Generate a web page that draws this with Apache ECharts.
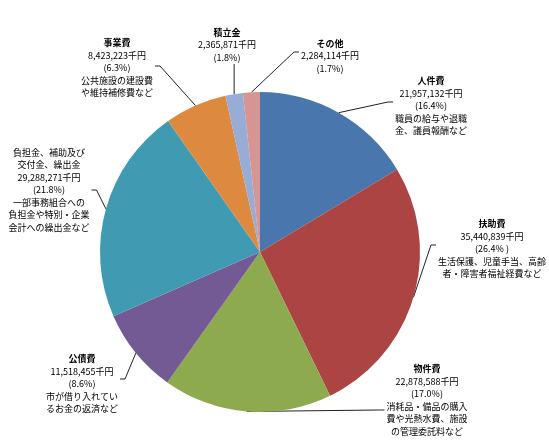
<!DOCTYPE html>
<html>
<head>
<meta charset="utf-8">
<script src="https://cdn.jsdelivr.net/npm/echarts@6/dist/echarts.min.js"></script>
</head>
<body style="margin:0;background:#fff">
<div id="chart" style="width:549px;height:448px;"></div>
<script>
// 歳出の内訳 (千円)
var names = ['人件費', '扶助費', '物件費', '公債費', '負担金、補助及び\n交付金、繰出金', '事業費', '積立金', 'その他'];
var values = [21957132, 35440839, 22878588, 11518455, 29288271, 8423223, 2365871, 2284114];
var pcts = ['16.4%', '26.4% ', '17.0%', '8.6%', '21.8%', '6.3%', '1.8%', '1.7%'];
var notes = [
    ['職員の給与や退職', '金、議員報酬など'],
    ['生活保護、児童手当、高齢', '者・障害者福祉経費など'],
    ['消耗品・備品の購入', '費や光熱水費、施設', 'の管理委託料など'],
    ['市が借り入れてい', 'るお金の返済など'],
    ['一部事務組合への', '負担金や特別・企業', '会計への繰出金など'],
    ['公共施設の建設費', 'や維持補修費など'],
    [],
    []
];
var colors = ['#4976ac', '#ab4442', '#8eaa4f', '#735a94', '#409bb2', '#dd8940', '#98add6', '#d69493'];

// label centre x, y, side the leader line meets, y shift of the line end
var labelPos = [
    [431, 106, 'left', -4],
    [492, 249, 'left', -4],
    [427, 400, 'left', 10],
    [82, 384, 'right', -5],
    [49, 190, 'right', 0],
    [117, 68, 'right', -2],
    [227, 45, 'bottom', 0],
    [330, 56, 'left', -4]
];

var chart = echarts.init(document.getElementById('chart'));

var data = [];
for (var i = 0; i < names.length; i++) {
    data.push({ name: names[i], value: values[i], itemStyle: { color: colors[i] } });
}

function fmt(v) {
    return String(v).replace(/\B(?=(\d{3})+(?!\d))/g, ',');
}

var option = {
    animation: false,
    series: [{
        type: 'pie',
        center: [260, 252],
        radius: 160,
        startAngle: 90,
        clockwise: true,
        avoidLabelOverlap: false,
        minShowLabelAngle: 0,
        itemStyle: { borderWidth: 0 },
        data: data,
        label: {
            show: true,
            position: 'outside',
            overflow: 'none',
            formatter: function (p) {
                var i = p.dataIndex;
                var parts = p.name.split('\n');
                // long two-line names are set in the normal weight
                var st = parts.length > 1 ? 't' : 'b';
                var lines = parts.map(function (s) { return '{' + st + '|' + s + '}'; });
                lines.push('{t|' + fmt(p.value) + '千円}');
                lines.push('{t|(' + pcts[i] + ')}');
                notes[i].forEach(function (s) { lines.push('{t|' + s + '}'); });
                return lines.join('\n');
            },
            rich: {
                b: { fontSize: 9, lineHeight: 12.5, fontWeight: 'bold', color: '#000', fontFamily: 'Noto Sans CJK JP' },
                t: { fontSize: 9, lineHeight: 12.5, color: '#000', fontFamily: 'Noto Sans CJK JP' }
            }
        },
        labelLine: {
            show: true,
            length: 10,
            length2: 5,
            lineStyle: { color: '#222', width: 1 }
        },
        labelLayout: function (params) {
            var pos = labelPos[params.dataIndex];
            var w = params.labelRect.width, h = params.labelRect.height;
            var x = pos[0], y = pos[1];
            var start = params.labelLinePoints[0];
            var end, mid;
            if (pos[2] === 'left') {
                end = [x - w / 2 - 2, y + pos[3]];
                mid = [end[0] - 5, end[1]];
            } else if (pos[2] === 'right') {
                end = [x + w / 2 + 2, y + pos[3]];
                mid = [end[0] + 5, end[1]];
            } else {
                end = [start[0], y + h / 2 + 2];
                mid = end;
            }
            return {
                x: x,
                y: y,
                align: 'center',
                verticalAlign: 'middle',
                labelLinePoints: [start, mid, end]
            };
        }
    }]
};

chart.setOption(option);
</script>
</body>
</html>
